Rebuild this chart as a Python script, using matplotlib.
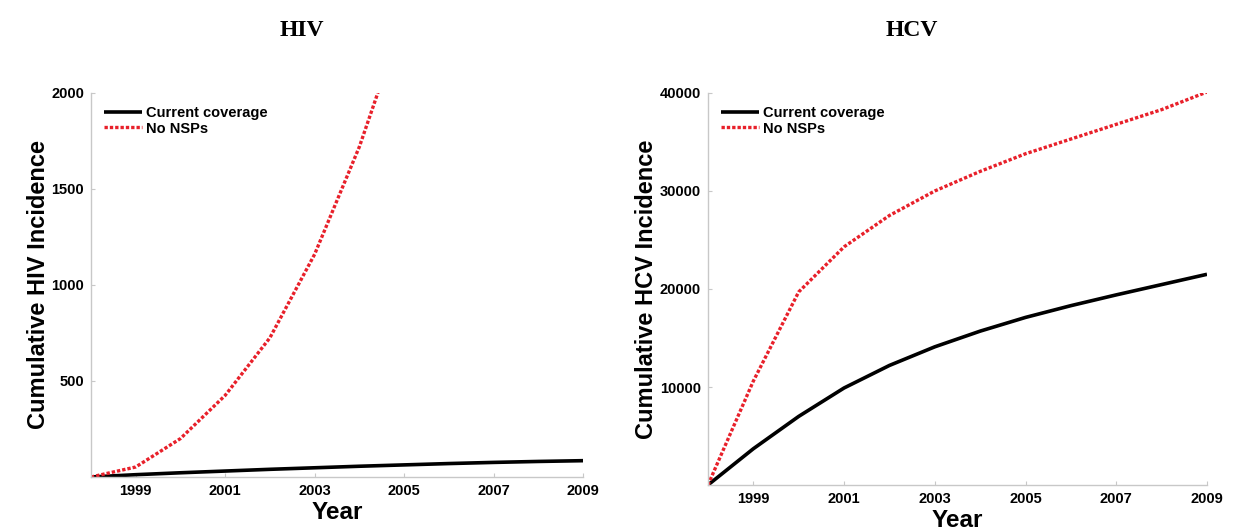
import matplotlib
matplotlib.use("Agg")
import matplotlib.pyplot as plt

# Cumulative incidence by year, 1998-2009
years = [1998, 1999, 2000, 2001, 2002, 2003, 2004, 2005, 2006, 2007, 2008, 2009]

hiv_current = [0, 12, 22, 31, 40, 48, 56, 63, 70, 76, 81, 85]
hiv_no_nsp = [0, 52, 200, 425, 725, 1160, 1720, 2400, 3100, 3850, 4650, 5500]

hcv_current = [0, 3700, 7000, 9900, 12200, 14100, 15700, 17100, 18300, 19400, 20450, 21500]
hcv_no_nsp = [0, 10600, 19700, 24300, 27500, 30000, 32000, 33800, 35300, 36800, 38300, 40100]

xticks = [1999, 2001, 2003, 2005, 2007, 2009]
hiv_yticks = [500, 1000, 1500, 2000]
hcv_yticks = [10000, 20000, 30000, 40000]

sans = "Liberation Sans"
serif = "Liberation Serif"

fig = plt.figure(figsize=(12.34, 5.31), dpi=100)
ax1 = fig.add_axes([0.0737, 0.1017, 0.3988, 0.7232])
ax2 = fig.add_axes([0.5737, 0.0866, 0.4044, 0.7383])

panels = [
    (ax1, hiv_current, hiv_no_nsp, 2000, hiv_yticks, "Cumulative HIV Incidence"),
    (ax2, hcv_current, hcv_no_nsp, 40000, hcv_yticks, "Cumulative HCV Incidence"),
]

for ax, cur, nonsp, ymax, yt, ylab in panels:
    ax.plot(years, cur, color="black", lw=2.6, label="Current coverage",
            solid_capstyle="butt")
    ax.plot(years, nonsp, color="#e8202a", lw=2.4, linestyle=(0, (1.0, 0.6)),
            label="No NSPs")
    ax.set_xlim(1998, 2009)
    ax.set_ylim(0, ymax)
    ax.set_xticks(xticks)
    ax.set_yticks(yt)
    for s in ("top", "right"):
        ax.spines[s].set_visible(False)
    for s in ("left", "bottom"):
        ax.spines[s].set_color("#c8c8c8")
        ax.spines[s].set_linewidth(1.0)
    ax.tick_params(axis="both", direction="in", length=3, color="#c8c8c8",
                   labelsize=10.5, pad=5)
    for lbl in ax.get_xticklabels() + ax.get_yticklabels():
        lbl.set_fontfamily(sans)
        lbl.set_fontweight("bold")
    ax.set_xlabel("Year", fontsize=17.5, fontweight="bold", family=sans, labelpad=2)
    ax.set_ylabel(ylab, fontsize=17, fontweight="bold", family=sans, labelpad=1)
    ax.legend(loc="upper left", frameon=False, handlelength=2.6,
              handletextpad=0.3, labelspacing=0.1,
              bbox_to_anchor=(0.0, 1.0),
              prop={"family": sans, "weight": "bold", "size": 10.5})

fig.text(302 / 1234, 1 - 30 / 531, "HIV", ha="center", va="center",
         fontsize=17, fontweight="bold", family=serif)
fig.text(912 / 1234, 1 - 30 / 531, "HCV", ha="center", va="center",
         fontsize=17, fontweight="bold", family=serif)

fig.savefig("out.png", dpi=100, facecolor="white")
